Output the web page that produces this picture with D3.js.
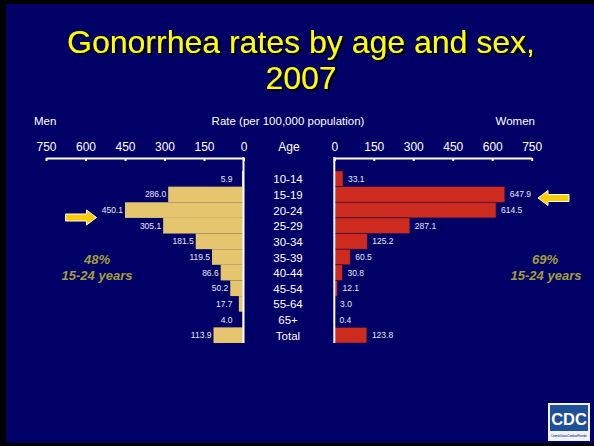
<!DOCTYPE html>
<html><head><meta charset="utf-8">
<script src="https://cdn.jsdelivr.net/npm/d3@7/dist/d3.min.js"></script>
<style>html,body{margin:0;padding:0;background:#000;}svg{display:block;}</style>
</head><body>
<script>
const ages = ["10-14","15-19","20-24","25-29","30-34","35-39","40-44","45-54","55-64","65+","Total"];
const men = [5.9,286.0,450.1,305.1,181.5,119.5,86.6,50.2,17.7,4.0,113.9];
const women = [33.1,647.9,614.5,287.1,125.2,60.5,30.8,12.1,3.0,0.4,123.8];
const ticks = [0,150,300,450,600,750];
const titleLines = ["Gonorrhea rates by age and sex,","2007"];

const W=594,H=446;
const svg=d3.select("body").append("svg").attr("width",W).attr("height",H);
const font="Liberation Sans, Arial, sans-serif";
const defs=svg.append("defs");
const f=defs.append("filter").attr("id","sh").attr("x","-10%").attr("y","-20%").attr("width","120%").attr("height","150%");
f.append("feDropShadow").attr("dx",2).attr("dy",2).attr("stdDeviation",0.4).attr("flood-color","#000").attr("flood-opacity",1);

svg.append("rect").attr("width",W).attr("height",H).attr("fill","#000");
svg.append("rect").attr("x",6).attr("y",4).attr("width",W-6).attr("height",439).attr("fill","#000066");

// title
titleLines.forEach((t,i)=>{
  svg.append("text").attr("x",301).attr("y",53+i*36).attr("text-anchor","middle")
    .attr("font-family",font).attr("font-size",32).attr("fill","#FFFF00")
    .attr("filter","url(#sh)").text(t);
});

const xM=d3.scaleLinear().domain([0,750]).range([243.5,46]);
const xW=d3.scaleLinear().domain([0,750]).range([334.3,531.7]);
const y=d3.scaleBand().domain(ages).range([171,343]).padding(0);
const axisY=158;

// headers
const hdr=(x,t,anchor)=>svg.append("text").attr("x",x).attr("y",125).attr("text-anchor",anchor)
  .attr("font-family",font).attr("font-size",11.5).attr("fill","#fff").text(t);
hdr(34,"Men","start");
hdr(288,"Rate (per 100,000 population)","middle");
hdr(535,"Women","end");
svg.append("text").attr("x",289).attr("y",151).attr("text-anchor","middle")
  .attr("font-family",font).attr("font-size",12).attr("fill","#fff").text("Age");

// bars
svg.append("g").selectAll("rect").data(ages).join("rect")
  .attr("x",(d,i)=>xM(men[i])).attr("y",d=>y(d))
  .attr("width",(d,i)=>xM(0)-xM(men[i])).attr("height",y.bandwidth())
  .attr("fill","#E6C56F");
svg.append("g").selectAll("rect").data(ages).join("rect")
  .attr("x",xW(0)).attr("y",d=>y(d))
  .attr("width",(d,i)=>xW(women[i])-xW(0)).attr("height",y.bandwidth())
  .attr("fill","#CC2B1D").attr("stroke","#2a0a50").attr("stroke-width",0.6);

// axes
function styleAxis(g){
  g.select(".domain").attr("stroke","#fff").attr("stroke-width",2);
  g.selectAll(".tick line").attr("stroke","#fff").attr("stroke-width",2);
  g.selectAll(".tick text").attr("fill","#fff").attr("font-family",font).attr("font-size",12);
}
svg.append("g").attr("transform",`translate(0,${axisY})`)
  .call(d3.axisTop(xM).tickValues(ticks).tickFormat(d3.format("d")).tickSizeInner(-3).tickSizeOuter(0).tickPadding(7))
  .call(styleAxis);
svg.append("g").attr("transform",`translate(0,${axisY})`)
  .call(d3.axisTop(xW).tickValues(ticks).tickFormat(d3.format("d")).tickSizeInner(-3).tickSizeOuter(0).tickPadding(7))
  .call(styleAxis);
svg.append("line").attr("x1",xM(0)).attr("x2",xM(0)).attr("y1",axisY-1).attr("y2",343).attr("stroke","#fff").attr("stroke-width",2);
svg.append("line").attr("x1",xW(0)).attr("x2",xW(0)).attr("y1",axisY-1).attr("y2",343).attr("stroke","#fff").attr("stroke-width",2);

// age labels
svg.append("g").selectAll("text").data(ages).join("text")
  .attr("x",288).attr("y",d=>y(d)+y.bandwidth()/2+4.5).attr("text-anchor","middle")
  .attr("font-family",font).attr("font-size",11.5).attr("fill","#fff").text(d=>d);

// value labels
svg.append("g").selectAll("text").data(ages).join("text")
  .attr("x",(d,i)=>Math.min(xM(men[i])-2,xM(0)-11)).attr("y",d=>y(d)+y.bandwidth()/2+3)
  .attr("text-anchor","end").attr("font-family",font).attr("font-size",8.5).attr("fill","#E8E8F4")
  .text((d,i)=>men[i].toFixed(1));
svg.append("g").selectAll("text").data(ages).join("text")
  .attr("x",(d,i)=>xW(women[i])+5).attr("y",d=>y(d)+y.bandwidth()/2+3)
  .attr("text-anchor","start").attr("font-family",font).attr("font-size",8.5).attr("fill","#E8E8F4")
  .text((d,i)=>women[i].toFixed(1));

// annotations
const ann=(x,yy,t)=>svg.append("text").attr("x",x).attr("y",yy).attr("text-anchor","middle")
  .attr("font-family",font).attr("font-size",13).attr("font-weight","bold").attr("font-style","italic")
  .attr("fill","#A39E3C").text(t);
ann(97,264,"48%"); ann(97,280,"15-24 years");
ann(545,264,"69%"); ann(546,280,"15-24 years");

// arrows
function arrow(cx,cy,dir){
  const L=31,sh=3.5,hh=7.5,hl=10;
  const pts=[[-L/2,-sh],[L/2-hl,-sh],[L/2-hl,-hh],[L/2,0],[L/2-hl,hh],[L/2-hl,sh],[-L/2,sh]]
    .map(p=>[cx+dir*p[0],cy+p[1]]);
  svg.append("polygon").attr("points",pts.map(p=>p.join(",")).join(" "))
    .attr("fill","#FFCC00").attr("stroke","#fff").attr("stroke-width",1);
}
arrow(81,217.5,1);
arrow(553.5,198,-1);

// CDC logo
const lg=svg.append("g");
lg.append("rect").attr("x",548).attr("y",403).attr("width",42).attr("height",38).attr("fill","#f2f2f2");
lg.append("rect").attr("x",550).attr("y",405).attr("width",38).attr("height",26).attr("fill","#1f4f98");
lg.append("text").attr("x",569).attr("y",424.5).attr("text-anchor","middle").attr("font-family",font)
  .attr("font-size",16.5).attr("font-weight","bold").attr("fill","#fff").text("CDC");
lg.append("text").attr("x",569).attr("y",437).attr("text-anchor","middle").attr("font-family",font)
  .attr("font-size",3).attr("fill","#1f4f98").attr("textLength",36).text("Centers for Disease Control and Prevention");
</script>
</body></html>
